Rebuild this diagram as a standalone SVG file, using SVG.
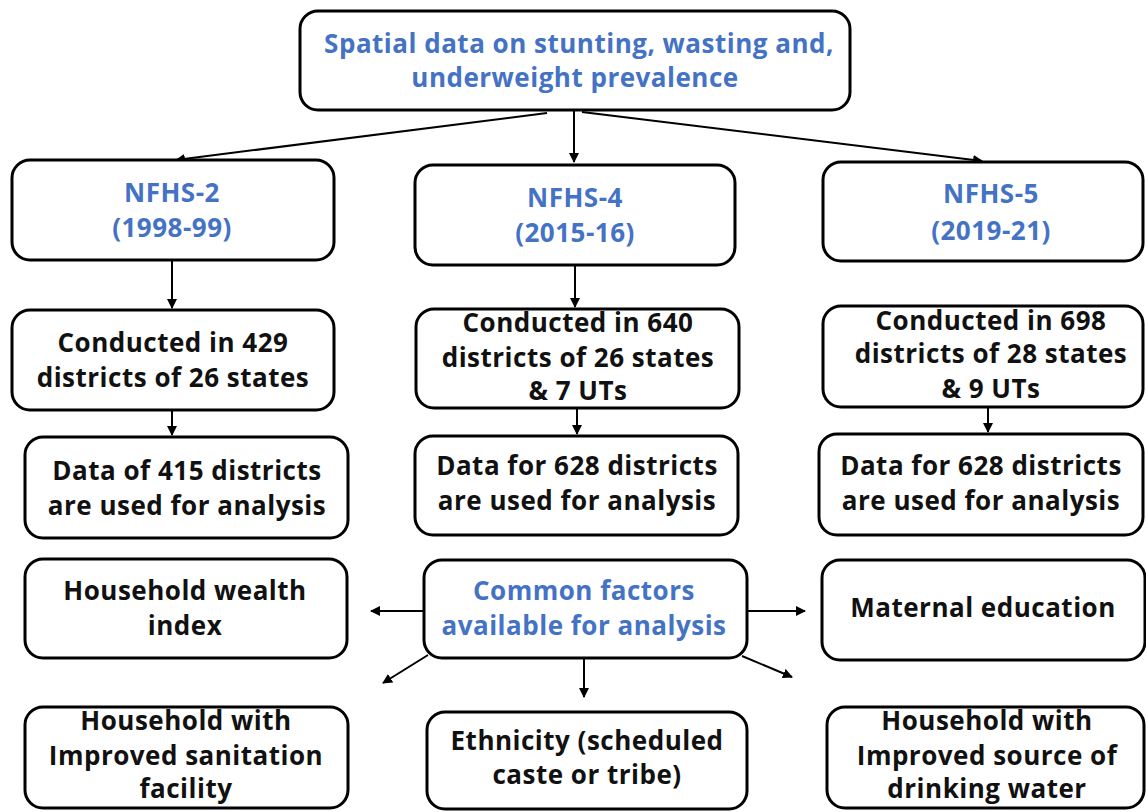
<svg xmlns="http://www.w3.org/2000/svg" width="1146" height="812" viewBox="0 0 1146 812">
<defs>
<style>
.box{fill:#fff;stroke:#000;stroke-width:3}
.t{font-family:"Open Sans","Liberation Sans",sans-serif;font-weight:bold;font-size:26px;letter-spacing:0.5px;fill:#111;text-anchor:middle}
.b{fill:#4472C4}
.c{stroke:#000;stroke-width:2;fill:none;marker-end:url(#ah)}
</style>
<marker id="ah" viewBox="0 0 10 10" refX="9" refY="5" markerWidth="5" markerHeight="5" orient="auto" markerUnits="strokeWidth">
<path d="M0,0 L10,5 L0,10 z" fill="#000"/>
</marker>
</defs>
<rect width="1146" height="812" fill="#fff"/>
<g id="connectors">
<line class="c" x1="574" y1="111" x2="574" y2="162"/>
<line class="c" x1="547" y1="113" x2="176" y2="160"/>
<line class="c" x1="582" y1="112" x2="982" y2="161"/>
<line class="c" x1="172" y1="261" x2="172" y2="308"/>
<line class="c" x1="575" y1="266" x2="575" y2="307"/>
<line class="c" x1="172" y1="411" x2="172" y2="435"/>
<line class="c" x1="577" y1="409" x2="577" y2="434"/>
<line class="c" x1="988" y1="408" x2="988" y2="432"/>
<line class="c" x1="423" y1="611" x2="371" y2="611"/>
<line class="c" x1="748" y1="611" x2="805" y2="611"/>
<line class="c" x1="428" y1="655" x2="383" y2="683"/>
<line class="c" x1="584" y1="659" x2="584" y2="697"/>
<line class="c" x1="742" y1="656" x2="792" y2="677"/>
</g>
<g id="n-top"><rect class="box" x="300" y="11" width="550" height="99" rx="18"/>
<text class="t b" x="579" y="53">Spatial data on stunting, wasting and,</text>
<text class="t b" x="575" y="87">underweight prevalence</text></g>
<g id="n-nfhs2"><rect class="box" x="12" y="160" width="322" height="100" rx="18"/>
<text class="t b" x="172" y="202">NFHS-2</text><text class="t b" x="172" y="237">(1998-99)</text></g>
<g id="n-nfhs4"><rect class="box" x="415" y="165" width="320" height="100" rx="18"/>
<text class="t b" x="575" y="207">NFHS-4</text><text class="t b" x="575" y="242">(2015-16)</text></g>
<g id="n-nfhs5"><rect class="box" x="823" y="162" width="320" height="99" rx="18"/>
<text class="t b" x="991" y="203">NFHS-5</text><text class="t b" x="991" y="240">(2019-21)</text></g>
<g id="n-cond2"><rect class="box" x="12" y="310" width="322" height="100" rx="18"/>
<text class="t" x="173" y="352">Conducted in 429</text><text class="t" x="173" y="387">districts of 26 states</text></g>
<g id="n-cond4"><rect class="box" x="416" y="309" width="323" height="99" rx="18"/>
<text class="t" x="578" y="332">Conducted in 640</text><text class="t" x="578" y="367">districts of 26 states</text><text class="t" x="578" y="400">&amp; 7 UTs</text></g>
<g id="n-cond5"><rect class="box" x="823" y="306" width="320" height="101" rx="18"/>
<text class="t" x="991" y="330">Conducted in 698</text><text class="t" x="991" y="363">districts of 28 states</text><text class="t" x="991" y="398">&amp; 9 UTs</text></g>
<g id="n-data2"><rect class="box" x="25" y="437" width="323" height="101" rx="18"/>
<text class="t" x="187" y="480">Data of 415 districts</text><text class="t" x="187" y="515">are used for analysis</text></g>
<g id="n-data4"><rect class="box" x="415" y="436" width="323" height="99" rx="18"/>
<text class="t" x="577" y="475">Data for 628 districts</text><text class="t" x="577" y="510">are used for analysis</text></g>
<g id="n-data5"><rect class="box" x="819" y="434" width="324" height="101" rx="18"/>
<text class="t" x="981" y="475">Data for 628 districts</text><text class="t" x="981" y="510">are used for analysis</text></g>
<g id="n-wealth"><rect class="box" x="25" y="559" width="322" height="99" rx="18"/>
<text class="t" x="185" y="600">Household wealth</text><text class="t" x="185" y="635">index</text></g>
<g id="n-common"><rect class="box" x="424" y="560" width="323" height="98" rx="18"/>
<text class="t b" x="584" y="600">Common factors</text><text class="t b" x="584" y="635">available for analysis</text></g>
<g id="n-maternal"><rect class="box" x="822" y="560" width="323" height="100" rx="18"/>
<text class="t" x="983" y="617">Maternal education</text></g>
<g id="n-sanitation"><rect class="box" x="25" y="707" width="323" height="101" rx="18"/>
<text class="t" x="186" y="730">Household with</text><text class="t" x="186" y="765">Improved sanitation</text><text class="t" x="186" y="798">facility</text></g>
<g id="n-ethnicity"><rect class="box" x="427" y="712" width="320" height="97" rx="18"/>
<text class="t" x="587" y="750">Ethnicity (scheduled</text><text class="t" x="587" y="784">caste or tribe)</text></g>
<g id="n-water"><rect class="box" x="827" y="707" width="317" height="101" rx="18"/>
<text class="t" x="987" y="730">Household with</text><text class="t" x="987" y="765">Improved source of</text><text class="t" x="987" y="798">drinking water</text></g>
</svg>
